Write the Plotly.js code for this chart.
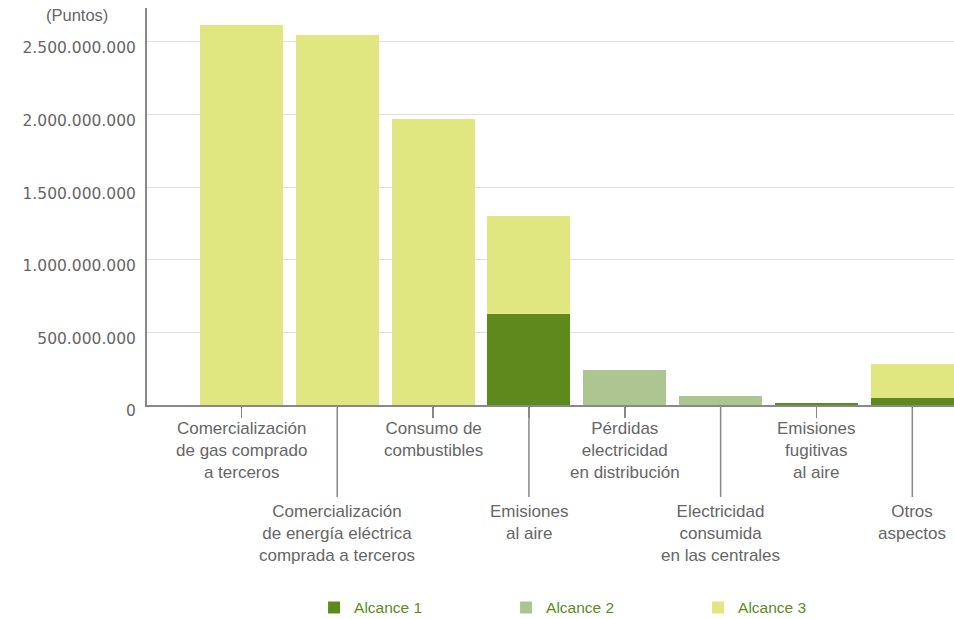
<!DOCTYPE html>
<html>
<head>
<meta charset="utf-8">
<script src="https://cdn.plot.ly/plotly-3.0.1.min.js"></script>
<style>html,body{margin:0;padding:0;background:#fff;}#chart{width:954px;height:619px;}</style>
</head>
<body>
<div id="chart"></div>
<script>
const categories = [
  "Comercialización de gas comprado a terceros",
  "Comercialización de energía eléctrica comprada a terceros",
  "Consumo de combustibles",
  "Emisiones al aire",
  "Pérdidas electricidad en distribución",
  "Electricidad consumida en las centrales",
  "Emisiones fugitivas al aire",
  "Otros aspectos"
];
const tickLabels = [
  "Comercialización<br>de gas comprado<br>a terceros",
  "Comercialización<br>de energía eléctrica<br>comprada a terceros",
  "Consumo de<br>combustibles",
  "Emisiones<br>al aire",
  "Pérdidas<br>electricidad<br>en distribución",
  "Electricidad<br>consumida<br>en las centrales",
  "Emisiones<br>fugitivas<br>al aire",
  "Otros<br>aspectos"
];
const seriesNames = ["Alcance 1", "Alcance 2", "Alcance 3"];
const alcance1 = [0, 0, 0, 627000000, 0, 0, 15000000, 50000000];
const alcance2 = [0, 0, 0, 0, 240000000, 65000000, 0, 0];
const alcance3 = [2617000000, 2548000000, 1970000000, 675000000, 0, 0, 0, 230000000];
const yTickVals = [0, 500000000, 1000000000, 1500000000, 2000000000, 2500000000];
const yUnit = "(Puntos)";

const colors = ["#5e8a1d", "#adc590", "#e0e781"];
const series = [alcance1, alcance2, alcance3];
const textGray = "#666666";
const labelFont = {family: "Liberation Sans, Arial, sans-serif", size: 17, color: textGray};

const traces = series.map((vals, k) => ({
  type: "bar",
  name: seriesNames[k],
  x: categories,
  y: vals,
  marker: {color: colors[k], line: {width: 0}},
  hoverinfo: "skip"
}));

const annotations = categories.map((c, i) => ({
  x: c, xref: "x", y: 0, yref: "paper",
  xanchor: "center", yanchor: "top",
  yshift: (i % 2) ? -95 : -12,
  text: tickLabels[i], showarrow: false,
  font: labelFont, align: "center"
}));
annotations.push({
  x: 0, xref: "paper", xshift: -70, xanchor: "center",
  y: 1, yref: "paper", yshift: -7, yanchor: "middle",
  text: yUnit, showarrow: false, font: {family: "Liberation Sans, Arial, sans-serif", size: 16.5, color: textGray}
});

const shapes = categories.filter((c, i) => i % 2 === 1).map(c => ({
  type: "line", xref: "x", x0: c, x1: c,
  yref: "paper", ysizemode: "pixel", yanchor: 0, y0: 0, y1: -92,
  line: {color: "#888888", width: 1.5}
}));

const layout = {
  width: 954, height: 619,
  margin: {l: 147, r: 0, t: 8, b: 214, autoexpand: false},
  paper_bgcolor: "#ffffff", plot_bgcolor: "#ffffff",
  barmode: "stack", bargap: 0.134,
  separators: ",.",
  showlegend: true,
  legend: {
    orientation: "h", x: 0.207, xanchor: "left",
    yref: "container", y: 0.018, yanchor: "middle",
    font: {family: "Liberation Sans, Arial, sans-serif", size: 15.5, color: "#5e8a1d"},
    entrywidth: 147, entrywidthmode: "pixels", traceorder: "normal"
  },
  xaxis: {
    type: "category", categoryarray: categories, categoryorder: "array",
    range: [-0.985, 7.435],
    showgrid: false, zeroline: false,
    showline: true, linecolor: "#888888", linewidth: 2,
    ticks: "outside", ticklen: 11, tickwidth: 1.5, tickcolor: "#888888",
    showticklabels: false, fixedrange: true
  },
  yaxis: {
    range: [0, 2734000000],
    tickvals: yTickVals, tickformat: ",d",
    showgrid: true, gridcolor: "#e0e0e0", gridwidth: 1,
    zeroline: false,
    showline: true, linecolor: "#888888", linewidth: 2,
    ticks: "", ticklabelstandoff: 6, ticklabelshift: 6,
    tickfont: {family: "DejaVu Sans, sans-serif", size: 15.5, color: textGray},
    fixedrange: true
  },
  annotations: annotations,
  shapes: shapes
};

Plotly.newPlot("chart", traces, layout, {displayModeBar: false, staticPlot: true});
</script>
</body>
</html>
